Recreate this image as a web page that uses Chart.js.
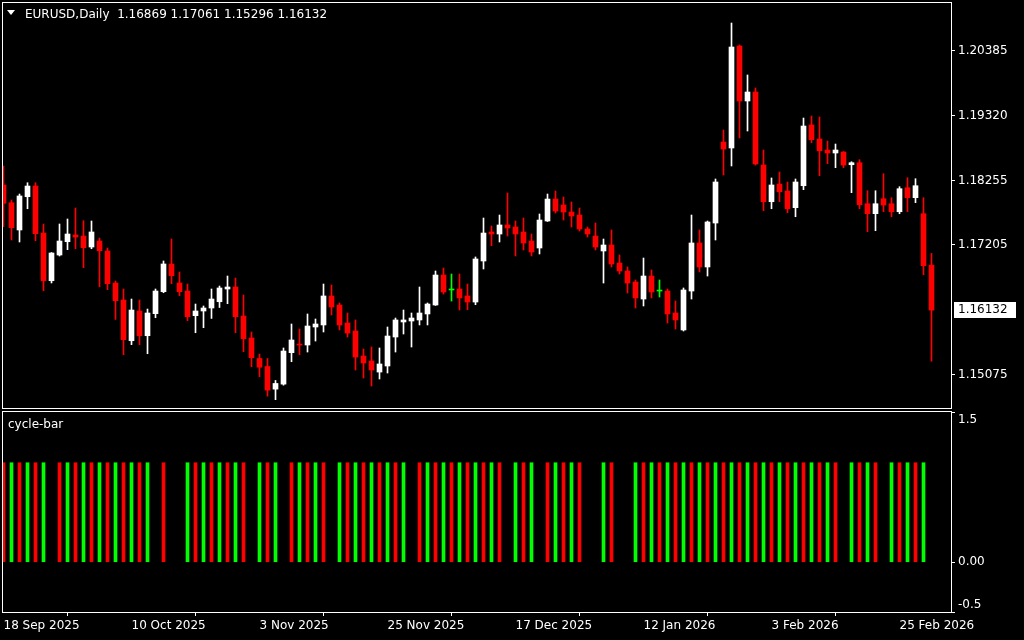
<!DOCTYPE html>
<html>
<head>
<meta charset="utf-8">
<script src="https://cdn.jsdelivr.net/npm/chart.js@4.4.1/dist/chart.umd.min.js"></script>
<style>
  html, body { margin: 0; padding: 0; background: #000; }
  #wrap { position: relative; width: 1024px; height: 640px; overflow: hidden; background: #000; }
  canvas { position: absolute; left: 0; }
  #priceChart { top: 0; }
  #cycleChart { top: 410px; }
</style>
</head>
<body>
<div id="wrap">
  <canvas id="priceChart" width="1024" height="410"></canvas>
  <canvas id="cycleChart" width="1024" height="230"></canvas>
</div>
<script>
const symbol = 'EURUSD';
const timeframe = 'Daily';

// daily bars, 18 Sep 2025 .. 3 Mar 2026
const opens = [
  1.18182, 1.17892, 1.17445, 1.17990, 1.18165, 1.17395, 1.16614, 1.17035, 1.17253, 1.17363,
  1.17346, 1.17166, 1.17264, 1.17101, 1.16576, 1.16298, 1.15631, 1.16118, 1.15713, 1.16074,
  1.16434, 1.16888, 1.16576, 1.16445, 1.16041, 1.16118, 1.16167, 1.16270, 1.16478, 1.16511,
  1.16036, 1.15676, 1.15340, 1.15209, 1.14838, 1.14920, 1.15435, 1.15577, 1.15561, 1.15856,
  1.15889, 1.16364, 1.16216, 1.15921, 1.15790, 1.15381, 1.15299, 1.15118, 1.15217, 1.15692,
  1.15938, 1.15954, 1.15971, 1.16069, 1.16216, 1.16707, 1.16462, 1.16478, 1.16364, 1.16265,
  1.16937, 1.17412, 1.17379, 1.17527, 1.17494, 1.17412, 1.17264, 1.17150, 1.17592, 1.17952,
  1.17854, 1.17739, 1.17690, 1.17461, 1.17346, 1.17101, 1.17199, 1.16904, 1.16773, 1.16593,
  1.16314, 1.16691, 1.16445, 1.16445, 1.16085, 1.15807, 1.16445, 1.17232, 1.16839, 1.17559,
  1.18886, 1.18788, 1.20459, 1.19558, 1.19705, 1.18509, 1.17908, 1.18198, 1.18083, 1.17810,
  1.18170, 1.19165, 1.18935, 1.18755, 1.18706, 1.18722, 1.18514, 1.18547, 1.17875, 1.17712,
  1.17957, 1.17875, 1.17744, 1.18137, 1.17974, 1.17712, 1.16869
];
const highs = [
  1.18493, 1.17936, 1.18034, 1.18219, 1.18219, 1.17543, 1.17075, 1.17543, 1.17625, 1.17805,
  1.17597, 1.17592, 1.17313, 1.17150, 1.16609, 1.16478, 1.16314, 1.16298, 1.16150, 1.16478,
  1.16937, 1.17297, 1.16757, 1.16560, 1.16232, 1.16200, 1.16478, 1.16527, 1.16691, 1.16658,
  1.16380, 1.15774, 1.15413, 1.15340, 1.14980, 1.15512, 1.15905, 1.15823, 1.16069, 1.15987,
  1.16560, 1.16544, 1.16249, 1.16085, 1.15971, 1.15495, 1.15528, 1.15512, 1.15856, 1.16003,
  1.16134, 1.16085, 1.16511, 1.16249, 1.16773, 1.16822, 1.16724, 1.16724, 1.16560, 1.17003,
  1.17641, 1.17510, 1.17690, 1.18051, 1.17592, 1.17641, 1.17379, 1.17707, 1.18034, 1.18083,
  1.17985, 1.17903, 1.17805, 1.17494, 1.17559, 1.17297, 1.17445, 1.17035, 1.16839, 1.16626,
  1.16986, 1.16790, 1.16626, 1.16478, 1.16282, 1.16495, 1.17690, 1.17445, 1.17592, 1.18280,
  1.19083, 1.20835, 1.20475, 1.19984, 1.19771, 1.18755, 1.18297, 1.18395, 1.18231, 1.18280,
  1.19279, 1.19312, 1.19296, 1.18902, 1.18853, 1.18730, 1.18563, 1.18596, 1.18088, 1.18088,
  1.18367, 1.17974, 1.18154, 1.18301, 1.18285, 1.17974, 1.17061
];
const lows = [
  1.17499, 1.17281, 1.17248, 1.17793, 1.17269, 1.16450, 1.16577, 1.17019, 1.17122, 1.17138,
  1.16827, 1.17138, 1.16515, 1.16467, 1.15980, 1.15402, 1.15566, 1.15566, 1.15418, 1.16008,
  1.16417, 1.16565, 1.16368, 1.15959, 1.15762, 1.15844, 1.15996, 1.16175, 1.16237, 1.15762,
  1.15451, 1.15205, 1.15042, 1.14723, 1.14665, 1.14903, 1.15287, 1.15402, 1.15446, 1.15626,
  1.15774, 1.16053, 1.15807, 1.15692, 1.15151, 1.15020, 1.14889, 1.15004, 1.15102, 1.15446,
  1.15741, 1.15528, 1.15889, 1.15889, 1.16210, 1.16396, 1.16281, 1.16134, 1.16139, 1.16221,
  1.16806, 1.17187, 1.17248, 1.17346, 1.17019, 1.17117, 1.17019, 1.17052, 1.17585, 1.17723,
  1.17608, 1.17494, 1.17428, 1.17330, 1.17117, 1.16576, 1.16839, 1.16724, 1.16413, 1.16167,
  1.16200, 1.16331, 1.16347, 1.15921, 1.15823, 1.15790, 1.16314, 1.16757, 1.16691, 1.17281,
  1.18346, 1.18493, 1.18952, 1.19066, 1.18509, 1.17761, 1.17793, 1.17908, 1.17728, 1.17662,
  1.18105, 1.18875, 1.18334, 1.18531, 1.18465, 1.18465, 1.18056, 1.17793, 1.17417, 1.17433,
  1.17744, 1.17662, 1.17711, 1.17744, 1.17892, 1.16712, 1.15296
];
const closes = [
  1.17882, 1.17482, 1.18002, 1.18165, 1.17384, 1.16614, 1.17068, 1.17264, 1.17379, 1.17330,
  1.17155, 1.17412, 1.17106, 1.16565, 1.16287, 1.15648, 1.16134, 1.15713, 1.16085, 1.16445,
  1.16888, 1.16696, 1.16434, 1.16025, 1.16118, 1.16167, 1.16314, 1.16495, 1.16511, 1.16025,
  1.15664, 1.15353, 1.15197, 1.14821, 1.14931, 1.15462, 1.15643, 1.15561, 1.15872, 1.15905,
  1.16364, 1.16184, 1.15889, 1.15757, 1.15364, 1.15266, 1.15151, 1.15250, 1.15708, 1.15971,
  1.15971, 1.16003, 1.16085, 1.16232, 1.16707, 1.16429, 1.16462, 1.16331, 1.16265, 1.16970,
  1.17395, 1.17379, 1.17527, 1.17477, 1.17379, 1.17232, 1.17084, 1.17608, 1.17952, 1.17756,
  1.17739, 1.17674, 1.17461, 1.17379, 1.17166, 1.17199, 1.16888, 1.16773, 1.16576, 1.16331,
  1.16691, 1.16429, 1.16445, 1.16069, 1.15971, 1.16462, 1.17232, 1.16839, 1.17576, 1.18231,
  1.18771, 1.20442, 1.19558, 1.19705, 1.18526, 1.17908, 1.18182, 1.18072, 1.17793, 1.18231,
  1.19148, 1.18924, 1.18743, 1.18706, 1.18755, 1.18509, 1.18547, 1.17859, 1.17712, 1.17875,
  1.17854, 1.17744, 1.18121, 1.17974, 1.18170, 1.16860, 1.16132
];

// cycle-bar: 1 = green, -1 = red, 0 = nothing
const cycleState = [
  -1, 1, -1, 1, -1, 1, 0, -1, 1, -1,
  1, -1, 1, -1, 1, -1, 1, -1, 1, 0,
  -1, 0, 0, 1, -1, 1, -1, 1, -1, 1,
  -1, 0, 1, -1, 1, 0, -1, 1, -1, 1,
  -1, 0, 1, -1, 1, -1, 1, -1, 1, -1,
  1, 0, -1, 1, -1, 1, -1, 1, -1, 1,
  -1, 1, -1, 0, 1, -1, 1, 0, -1, 1,
  -1, 1, -1, 0, 0, 1, -1, 0, 0, 1,
  -1, 1, -1, 1, -1, 1, -1, 1, -1, 1,
  -1, 1, -1, 1, -1, 1, -1, 1, -1, 1,
  -1, 1, -1, 1, -1, 0, 1, -1, 1, -1,
  0, 1, -1, 1, -1, 1, 0
];

const priceTicks = [1.15075, 1.17205, 1.18255, 1.19320, 1.20385];
const cycleTicks = [1.5, 0, -0.5];
const tickBars = [0, 16, 32, 48, 64, 80, 96, 112];
const tickLabels = ['18 Sep 2025', '10 Oct 2025', '3 Nov 2025', '25 Nov 2025',
                    '17 Dec 2025', '12 Jan 2026', '3 Feb 2026', '25 Feb 2026'];

Chart.defaults.font.family = "'DejaVu Sans', sans-serif";
Chart.defaults.font.size = 12;
Chart.defaults.color = '#ffffff';

const last = closes.length - 1;
const xMin = -0.0625, xMax = 118.4375;

function candleColor(i) {
    if (closes[i] > opens[i]) return '#ffffff';
    if (closes[i] < opens[i]) return '#ff0000';
    return '#00ff00';
}

// keep the plot area fixed: no label padding from the side axes
function fixWidth(s) {
    s.width = 73;
    s.paddingTop = 0;
    s.paddingBottom = 0;
}

const framePlugin = {
    id: 'frame',
    afterDraw(chart) {
        const { ctx, chartArea: a } = chart;
        ctx.save();
        ctx.strokeStyle = '#ffffff';
        ctx.lineWidth = 1;
        ctx.strokeRect(a.left - 0.5, a.top - 0.5, a.right - a.left + 1, a.bottom - a.top + 1);
        ctx.restore();
    }
};

const headerPlugin = {
    id: 'header',
    afterDraw(chart) {
        const ctx = chart.ctx;
        ctx.save();
        ctx.fillStyle = '#ffffff';
        ctx.beginPath();
        ctx.moveTo(7, 10);
        ctx.lineTo(15, 10);
        ctx.lineTo(11, 15);
        ctx.closePath();
        ctx.fill();
        ctx.font = "12px 'DejaVu Sans'";
        ctx.textBaseline = 'alphabetic';
        const text = symbol + ',' + timeframe + '  ' +
            [opens[last], highs[last], lows[last], closes[last]].map(v => v.toFixed(5)).join(' ');
        ctx.fillText(text, 25, 18);
        ctx.restore();
    }
};

const lastPricePlugin = {
    id: 'lastPrice',
    afterDraw(chart) {
        const ctx = chart.ctx;
        const y = Math.round(chart.scales.y.getPixelForValue(closes[last]));
        ctx.save();
        ctx.fillStyle = '#ffffff';
        ctx.fillRect(954, y - 8, 62, 16);
        ctx.fillStyle = '#000000';
        ctx.font = "12px 'DejaVu Sans'";
        ctx.textBaseline = 'middle';
        ctx.fillText(closes[last].toFixed(5), 958, y);
        ctx.restore();
    }
};

const labelPlugin = {
    id: 'panelLabel',
    afterDraw(chart) {
        const ctx = chart.ctx;
        ctx.save();
        ctx.fillStyle = '#ffffff';
        ctx.font = "12px 'DejaVu Sans'";
        ctx.textBaseline = 'alphabetic';
        ctx.fillText('cycle-bar', 8, 18);
        ctx.restore();
    }
};

new Chart(document.getElementById('priceChart'), {
    type: 'bar',
    data: {
        datasets: [
            {
                label: 'body',
                data: opens.map((o, i) => ({ x: i, y: [o, closes[i]] })),
                backgroundColor: (c) => candleColor(c.dataIndex),
                barThickness: 5,
                minBarLength: 1,
                grouped: false,
                borderWidth: 0,
                order: 1
            },
            {
                label: 'wick',
                data: lows.map((l, i) => ({ x: i, y: [l, highs[i]] })),
                backgroundColor: (c) => candleColor(c.dataIndex),
                barThickness: 1,
                grouped: false,
                borderWidth: 0,
                order: 2
            }
        ]
    },
    options: {
        responsive: false,
        animation: false,
        layout: { padding: { top: 3, left: 3, bottom: 2, right: 0 } },
        plugins: { legend: { display: false }, tooltip: { enabled: false } },
        scales: {
            x: { type: 'linear', display: false, min: xMin, max: xMax, offset: false },
            y: {
                position: 'right',
                min: 1.14529,
                max: 1.21163,
                afterFit: fixWidth,
                afterBuildTicks: (s) => { s.ticks = priceTicks.map(v => ({ value: v })); },
                ticks: { color: '#ffffff', padding: 3, callback: (v) => v.toFixed(5) },
                grid: { drawOnChartArea: false, color: '#ffffff', tickLength: 4 },
                border: { display: false }
            }
        }
    },
    plugins: [framePlugin, headerPlugin, lastPricePlugin]
});

new Chart(document.getElementById('cycleChart'), {
    type: 'bar',
    data: {
        datasets: [
            {
                label: 'up',
                data: cycleState.map((s, i) => ({ x: i, y: s === 1 ? 1 : null })),
                backgroundColor: '#00ff00',
                barThickness: 3,
                grouped: false,
                borderWidth: 0
            },
            {
                label: 'down',
                data: cycleState.map((s, i) => ({ x: i, y: s === -1 ? 1 : null })),
                backgroundColor: '#ff0000',
                barThickness: 3,
                grouped: false,
                borderWidth: 0
            }
        ]
    },
    options: {
        responsive: false,
        animation: false,
        layout: { padding: { top: 2, left: 3, bottom: 0, right: 0 } },
        plugins: { legend: { display: false }, tooltip: { enabled: false } },
        scales: {
            x: {
                type: 'linear',
                min: xMin,
                max: xMax,
                offset: false,
                afterBuildTicks: (s) => { s.ticks = tickBars.map(v => ({ value: v })); },
                afterFit: (s) => { s.height = 28; s.paddingLeft = 0; s.paddingRight = 0; },
                ticks: {
                    color: '#ffffff',
                    align: 'start',
                    autoSkip: false,
                    maxRotation: 0,
                    padding: 3,
                    callback: (v, idx) => tickLabels[idx]
                },
                grid: { drawOnChartArea: false, color: '#ffffff', tickLength: 4 },
                border: { display: false }
            },
            y: {
                position: 'right',
                min: -0.5,
                max: 1.51,
                afterFit: fixWidth,
                afterBuildTicks: (s) => { s.ticks = cycleTicks.map(v => ({ value: v })); },
                ticks: {
                    color: '#ffffff',
                    padding: 3,
                    callback: (v) => {
                        if (v === 1.5) return ['', '1.5'];
                        if (v === -0.5) return ['-0.5', ''];
                        return v.toFixed(2);
                    }
                },
                grid: { drawOnChartArea: false, color: '#ffffff', tickLength: 4 },
                border: { display: false }
            }
        }
    },
    plugins: [framePlugin, labelPlugin]
});
</script>
</body>
</html>
